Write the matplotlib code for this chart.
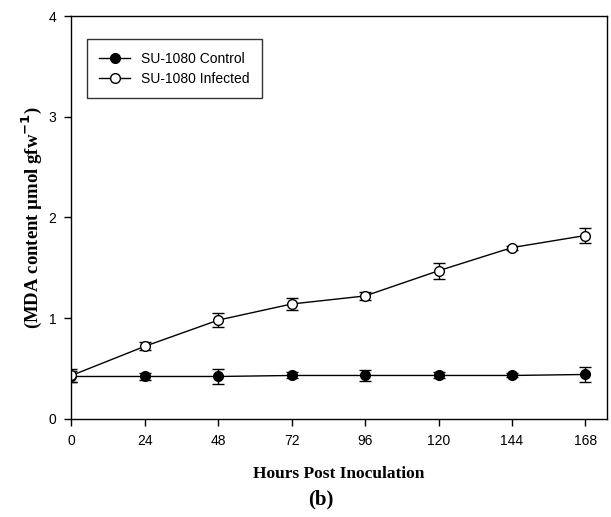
import matplotlib
matplotlib.use("Agg")
import matplotlib.pyplot as plt
from matplotlib.lines import Line2D

# Data
hours = [0, 24, 48, 72, 96, 120, 144, 168]
control = [0.42, 0.42, 0.42, 0.43, 0.43, 0.43, 0.43, 0.44]
control_err = [0.05, 0.03, 0.07, 0.03, 0.05, 0.03, 0.02, 0.07]
infected = [0.43, 0.72, 0.98, 1.14, 1.22, 1.47, 1.70, 1.82]
infected_err = [0.06, 0.04, 0.07, 0.06, 0.04, 0.08, 0.02, 0.07]

x_ticks = [0, 24, 48, 72, 96, 120, 144, 168]
y_ticks = [0, 1, 2, 3, 4]

fig = plt.figure(figsize=(6.11, 5.17), dpi=100)
ax = fig.add_axes([0.117, 0.190, 0.876, 0.779])

common = dict(color="black", linewidth=1.0, markersize=7, capsize=4,
              elinewidth=1.0, capthick=1.0, markeredgecolor="black")
ax.errorbar(hours, control, yerr=control_err, fmt="-o",
            markerfacecolor="black", **common)
ax.errorbar(hours, infected, yerr=infected_err, fmt="-o",
            markerfacecolor="white", **common)

ax.set_xlim(0, 175)
ax.set_ylim(0, 4)
ax.set_xticks(x_ticks)
ax.set_yticks(y_ticks)
ax.tick_params(direction="out", length=5, width=1, labelsize=10, pad=6)
for lbl in ax.get_xticklabels() + ax.get_yticklabels():
    lbl.set_fontfamily("Liberation Sans")
for s in ax.spines.values():
    s.set_linewidth(1.0)

ax.set_xlabel("Hours Post Inoculation", fontfamily="Liberation Serif",
              fontweight="bold", fontsize=12.5, labelpad=13)
ax.set_ylabel("(MDA content µmol gfw$^{\\mathbf{-1}}$)", fontfamily="Liberation Serif",
              fontweight="bold", fontsize=13.5, labelpad=3)
fig.text(0.525, 0.033, "(b)", ha="center", va="center", fontfamily="Liberation Serif",
         fontweight="bold", fontsize=15)

# legend shows line + marker only, no error bars
handles = [
    Line2D([], [], color="black", linewidth=1.0, marker="o", markersize=7,
           markerfacecolor="black", markeredgecolor="black"),
    Line2D([], [], color="black", linewidth=1.0, marker="o", markersize=7,
           markerfacecolor="white", markeredgecolor="black"),
]
leg = ax.legend(handles, ["SU-1080 Control", "SU-1080 Infected"],
                loc="upper left", bbox_to_anchor=(0.016, 0.96), frameon=True,
                fancybox=False, edgecolor="black",
                prop={"family": "Liberation Sans", "size": 10},
                handlelength=2.2, borderpad=0.9, labelspacing=0.45)
leg.get_frame().set_linewidth(1.0)

fig.savefig("out.png", dpi=100)
